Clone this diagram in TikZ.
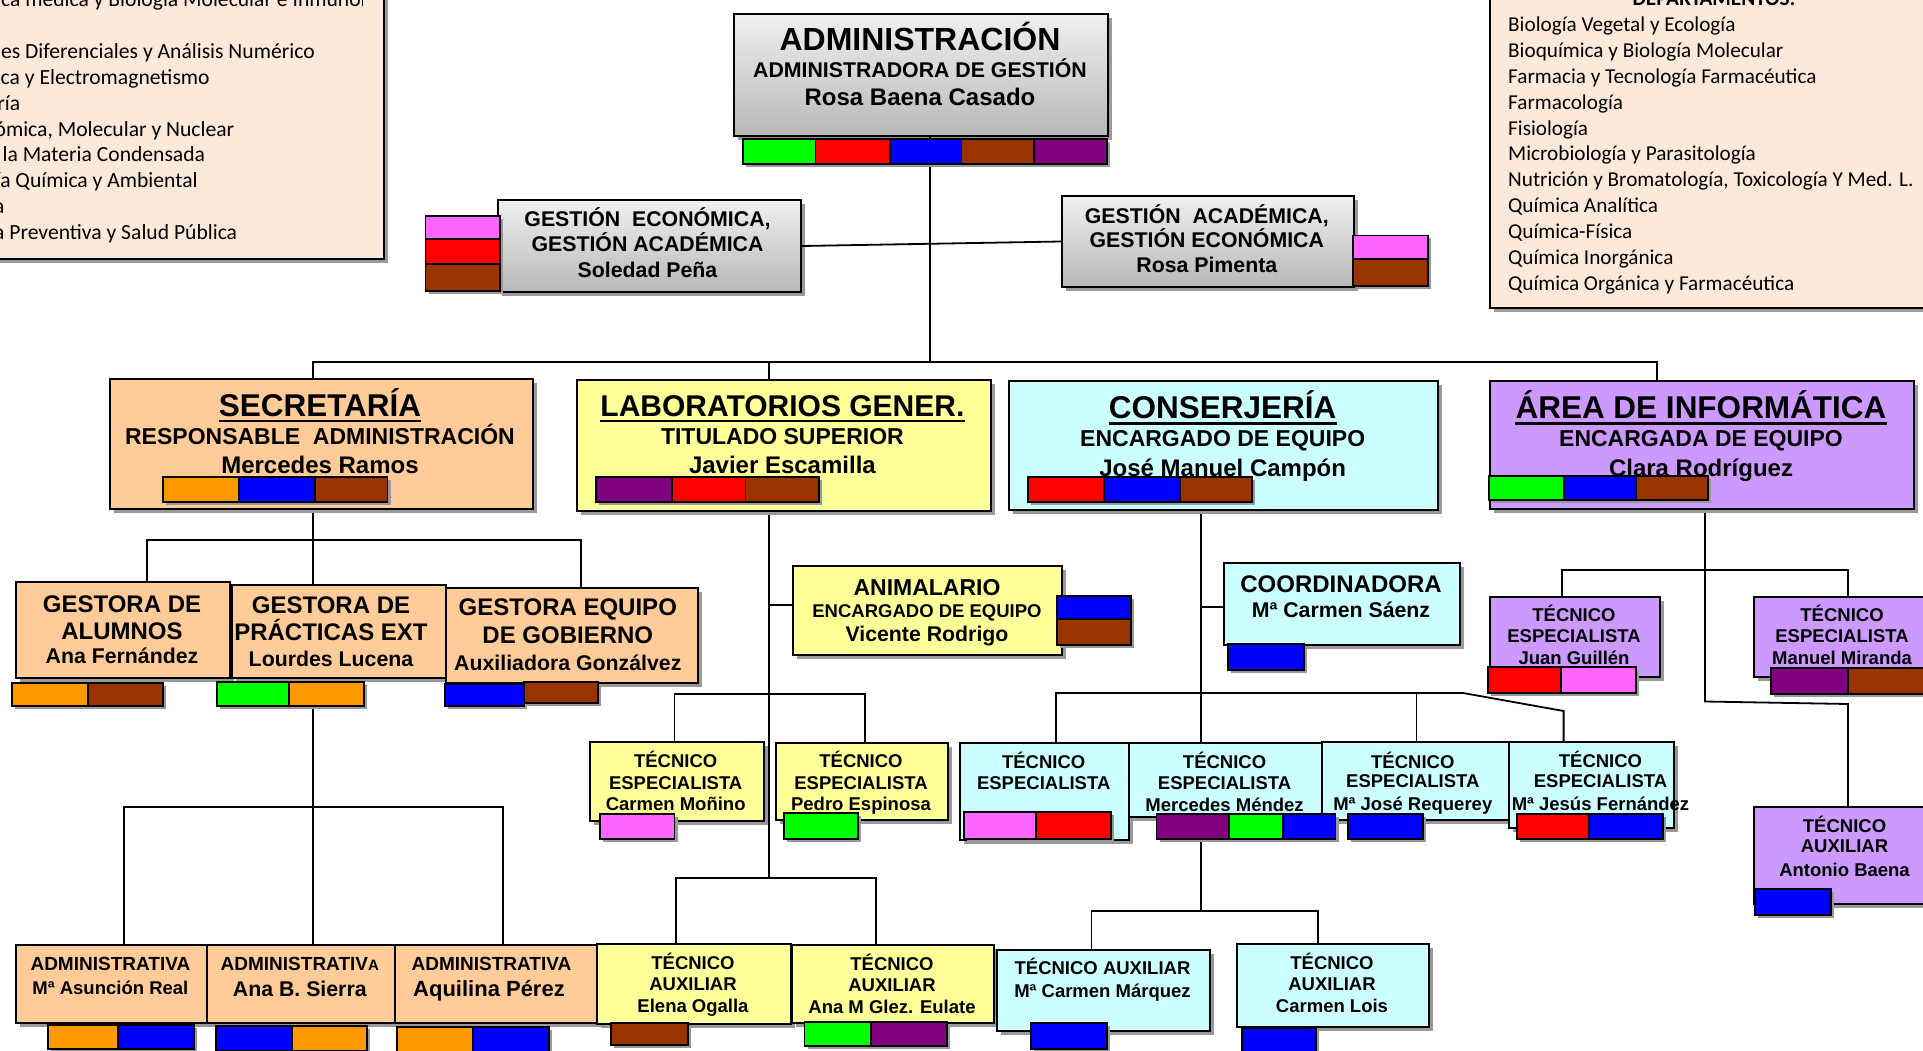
\documentclass[tikz,border=0pt]{standalone}
\usepackage{fontspec}
\setmainfont{Liberation Sans}
\newfontfamily\depfont{Carlito}
\usetikzlibrary{shadows}
\definecolor{cgreen}{RGB}{0,255,0}
\definecolor{cred}{RGB}{255,0,0}
\definecolor{cblue}{RGB}{0,0,255}
\definecolor{cbrown}{RGB}{153,51,0}
\definecolor{cpurple}{RGB}{128,0,128}
\definecolor{cpink}{RGB}{255,102,255}
\definecolor{corange}{RGB}{255,153,0}
\definecolor{peach}{RGB}{255,204,153}
\definecolor{lemon}{RGB}{255,255,153}
\definecolor{aqua}{RGB}{204,255,255}
\definecolor{lilac}{RGB}{204,153,255}
\definecolor{paper}{RGB}{253,233,217}

\begin{document}
\begin{tikzpicture}[x=1pt,y=-1pt,
  box/.style={draw=black,line width=2pt,anchor=north west,inner sep=0pt,
    drop shadow={shadow xshift=4pt,shadow yshift=-4pt,fill=black!40,opacity=1}},
  sq/.style={draw=black,line width=1.6pt,
    drop shadow={shadow xshift=3pt,shadow yshift=-3pt,fill=black!40,opacity=1}},
  ln/.style={draw=black,line width=1.8pt},
  tx/.style={inner sep=0pt,anchor=base},
  ttl/.style={tx,font=\bfseries\fontsize{31.5}{32}\selectfont},
  t24/.style={tx,font=\bfseries\fontsize{24}{24}\selectfont},
  t23/.style={tx,font=\bfseries\fontsize{23}{23}\selectfont},
  t21/.style={tx,font=\bfseries\fontsize{21.3}{22}\selectfont},
  t18/.style={tx,font=\bfseries\fontsize{18.5}{19}\selectfont},
  t17/.style={tx,font=\bfseries\fontsize{19}{19}\selectfont},
  dep/.style={inner sep=0pt,anchor=base west,font=\depfont\fontsize{21.6}{22}\selectfont},
  uln/.style={line width=2.6pt}]
\useasboundingbox (0,0) rectangle (1923,1051);

%Departments (cut by the page edge)
\node[box,fill=paper,minimum width=400pt,minimum height=270pt] (depL) at (-17,-12) {};
\node[box,fill=paper,minimum width=450pt,minimum height=320pt] (depR) at (1489,-13) {};
\begin{scope}
\clip (0,0) rectangle (362,258);
\foreach \d [count=\k from 0] in {Bioquímica médica y Biología Molecular e Inmunología,Botánica,
  Ecuaciones Diferenciales y Análisis Numérico,Electrónica y Electromagnetismo,Enfermería,
  {Física Atómica, Molecular y Nuclear},Física de la Materia Condensada,
  Ingeniería Química y Ambiental,Medicina,Medicina Preventiva y Salud Pública}
  \node[dep] (dl-\k) at (-77,6.7+25.88*\k) {\d};
\end{scope}
\node[tx,font=\depfont\bfseries\fontsize{21.2}{22}\selectfont] (dr-t) at (1714,6) {DEPARTAMENTOS:};
\foreach \d [count=\k from 0] in {Biología Vegetal y Ecología,Bioquímica y Biología Molecular,
  Farmacia y Tecnología Farmacéutica,Farmacología,Fisiología,Microbiología y Parasitología,
  {Nutrición y Bromatología, Toxicología Y Med. L.},Química Analítica,Química-Física,
  Química Inorgánica,Química Orgánica y Farmacéutica}
  \node[dep,font=\depfont\fontsize{21.2}{22}\selectfont] (dr-\k) at (1508,31.5+25.88*\k) {\d};

%Junctions
\coordinate (j0) at (929.6,362);
\coordinate (bL) at (313,362);
\coordinate (bM) at (769,362);
\coordinate (bR) at (1657,362);
\coordinate (sA) at (147,540);
\coordinate (sB) at (581,540);
\coordinate (a0) at (313,807);
\coordinate (aA) at (124,807);
\coordinate (aB) at (503,807);
\coordinate (l0) at (769,878);
\coordinate (lA) at (674.5,694);
\coordinate (lB) at (865,694);
\coordinate (lC) at (676,878);
\coordinate (lD) at (876,878);
\coordinate (c0) at (1200.6,911);
\coordinate (cA) at (1056,693);
\coordinate (cB) at (1416.5,693);
\coordinate (cC) at (1463,693);
\coordinate (cD) at (1563.6,711);
\coordinate (cE) at (1091.5,911);
\coordinate (cF) at (1318,911);
\coordinate (i0) at (1705,701.5);
\coordinate (i1) at (1848,704);
\coordinate (iA) at (1562,570);
\coordinate (iB) at (1848,570);

%Boxes (placed first so the connectors can use them)
\path (733,13.5) node[box,top color=black!6,bottom color=black!28,minimum width=374pt,minimum height=121.5pt] (adm) {};
\path (497,199) node[box,top color=black!6,bottom color=black!28,minimum width=303pt,minimum height=92pt] (ge) {};
\path (1061,195) node[box,top color=black!6,bottom color=black!28,minimum width=292pt,minimum height=91pt] (ga) {};

%Connectors
\draw[ln] (j0 |- adm.south) -- (j0);
\draw[ln] (ge.east) -- (ga.west);
\draw[ln] (bL |- 0,378) -- (bL) -- (bR) -- (bR |- 0,380);
\draw[ln] (bM) -- (bM |- 0,379);
\draw[ln] (bL |- 0,508) -- (a0) -- (a0 |- 0,944);
\draw[ln] (sA |- 0,581) -- (sA) -- (sB) -- (sB |- 0,587);
\draw[ln] (aA |- 0,944) -- (aA) -- (aB) -- (aB |- 0,944);
\draw[ln] (bM |- 0,510) -- (l0);
\draw[ln] (bM |- 0,605) -- (792,605);
\draw[ln] (lA |- 0,741) -- (lA) -- (lB) -- (lB |- 0,742);
\draw[ln] (lC |- 0,943) -- (lC) -- (lD) -- (lD |- 0,944);
\draw[ln] (c0 |- 0,509) -- (c0);
\draw[ln] (c0 |- 0,607) -- (1223,607);
\draw[ln] (cA |- 0,742) -- (cA) -- (cC) -- (cD) -- (cD |- 0,741);
\draw[ln] (cB) -- (cB |- 0,741);
\draw[ln] (cE |- 0,949) -- (cE) -- (cF) -- (cF |- 0,943);
\draw[ln] (i0 |- 0,508) -- (i0) -- (i1) -- (i1 |- 0,806);
\draw[ln] (iA |- 0,596) -- (iA) -- (iB) -- (iB |- 0,596);

%Second row
\node[box,fill=peach,minimum width=423pt,minimum height=130pt] (sec) at (109,378) {};
\node[box,fill=lemon,minimum width=414pt,minimum height=131pt] (lab) at (576,379) {};
\node[box,fill=aqua,minimum width=429pt,minimum height=129pt] (con) at (1008,380) {};
\node[box,fill=lilac,minimum width=424pt,minimum height=128pt] (inf) at (1489,380) {};
%Secretaria staff
\node[box,fill=peach,minimum width=214pt,minimum height=96pt] (alu) at (15,581) {};
\node[box,fill=peach,minimum width=214.5pt,minimum height=93pt] (pra) at (230.5,584) {};
\node[box,fill=peach,minimum width=252pt,minimum height=95pt] (gob) at (445,587) {};
\node[box,fill=peach,minimum width=191pt,minimum height=78pt] (ad1) at (15,944) {};
\node[box,fill=peach,minimum width=188pt,minimum height=78pt] (ad2) at (206,944) {};
\node[box,fill=peach,minimum width=228pt,minimum height=78pt] (ad3) at (394,944) {};
%Laboratorios staff
\node[box,fill=lemon,minimum width=269pt,minimum height=89pt] (ani) at (792,565) {};
\node[box,fill=lemon,minimum width=174pt,minimum height=79pt] (mon) at (589,741) {};
\node[box,fill=lemon,minimum width=172pt,minimum height=77pt] (esp) at (775,742) {};
\node[box,fill=lemon,minimum width=194pt,minimum height=80pt] (oga) at (596,943) {};
\node[box,fill=lemon,minimum width=202pt,minimum height=78pt] (eul) at (791,944) {};
%Conserjeria staff
\node[box,fill=aqua,minimum width=236pt,minimum height=82pt] (coo) at (1223,562) {};
\node[box,fill=aqua,minimum width=169pt,minimum height=97pt] (te1) at (959,742) {};
\node[box,fill=aqua,minimum width=193pt,minimum height=74pt] (men) at (1128,742) {};
\node[box,fill=aqua,minimum width=187pt,minimum height=78pt] (req) at (1321,741) {};
\node[box,fill=aqua,minimum width=165pt,minimum height=86pt] (jes) at (1508,741) {};
\node[box,fill=aqua,minimum width=213pt,minimum height=81pt] (mar) at (996,949) {};
\node[box,fill=aqua,minimum width=191.5pt,minimum height=83pt] (loi) at (1236,943) {};
%Informatica staff
\node[box,fill=lilac,minimum width=170pt,minimum height=80pt] (gui) at (1489,596) {};
\node[box,fill=lilac,minimum width=182.5pt,minimum height=80pt] (mir) at (1752.5,596) {};
\node[box,fill=lilac,minimum width=182.5pt,minimum height=97pt] (bae) at (1752.5,806) {};

%Colour tags
\draw[sq,fill=cgreen] (743,139) rectangle (815.6,164);
\draw[sq,fill=cred] (815.6,139) rectangle (890,164);
\draw[sq,fill=cblue] (890,139) rectangle (961.5,164);
\draw[sq,fill=cbrown] (961.5,139) rectangle (1034,164);
\draw[sq,fill=cpurple] (1034,139) rectangle (1107,164);
\draw[sq,fill=cpink] (425.6,216) rectangle (500,239);
\draw[sq,fill=cred] (425.6,239) rectangle (500,264);
\draw[sq,fill=cbrown] (425.6,264) rectangle (500,291);
\draw[sq,fill=cpink] (1353,235.5) rectangle (1428,259);
\draw[sq,fill=cbrown] (1353,259) rectangle (1428,286);
\draw[sq,fill=corange] (163,477) rectangle (239,502);
\draw[sq,fill=cblue] (239,477) rectangle (315,502);
\draw[sq,fill=cbrown] (315,477) rectangle (387.5,502);
\draw[sq,fill=cpurple] (596,477) rectangle (672,502);
\draw[sq,fill=cred] (672,477) rectangle (745.6,502);
\draw[sq,fill=cbrown] (745.6,477) rectangle (819,502);
\draw[sq,fill=cred] (1028,477) rectangle (1104,502);
\draw[sq,fill=cblue] (1104,477) rectangle (1180,502);
\draw[sq,fill=cbrown] (1180,477) rectangle (1252,502);
\draw[sq,fill=cgreen] (1489,476) rectangle (1564,500);
\draw[sq,fill=cblue] (1564,476) rectangle (1636,500);
\draw[sq,fill=cbrown] (1636,476) rectangle (1708,500);
\draw[sq,fill=corange] (12,683) rectangle (88,706);
\draw[sq,fill=cbrown] (88,683) rectangle (163,706);
\draw[sq,fill=cgreen] (217,682) rectangle (289,706);
\draw[sq,fill=corange] (289,682) rectangle (364,706);
\draw[sq,fill=cblue] (445,684) rectangle (524,706);
\draw[sq,fill=cbrown] (524,682) rectangle (598,703);
\draw[sq,fill=corange] (48,1025) rectangle (118,1049);
\draw[sq,fill=cblue] (118,1025) rectangle (194,1049);
\draw[sq,fill=cblue] (216,1026) rectangle (292,1051);
\draw[sq,fill=corange] (292,1026) rectangle (367,1051);
\draw[sq,fill=corange] (397,1027) rectangle (473,1052);
\draw[sq,fill=cblue] (473,1027) rectangle (549,1052);
\draw[sq,fill=cblue] (1057,596) rectangle (1131,619);
\draw[sq,fill=cbrown] (1057,619) rectangle (1131,645);
\draw[sq,fill=cpink] (600,814) rectangle (674.5,839);
\draw[sq,fill=cgreen] (784,813) rectangle (858,839);
\draw[sq,fill=cbrown] (611,1023) rectangle (688,1045);
\draw[sq,fill=cgreen] (804.5,1022) rectangle (871,1046);
\draw[sq,fill=cpurple] (871,1022) rectangle (947,1046);
\draw[sq,fill=cblue] (1228,644) rectangle (1304,670);
\draw[sq,fill=cpink] (964,812) rectangle (1036,839);
\draw[sq,fill=cred] (1036,812) rectangle (1111,839);
\draw[sq,fill=cpurple] (1156.5,814) rectangle (1229,839);
\draw[sq,fill=cgreen] (1229,814) rectangle (1283,839);
\draw[sq,fill=cblue] (1283,814) rectangle (1335.5,839);
\draw[sq,fill=cblue] (1348,814) rectangle (1423,839);
\draw[sq,fill=cred] (1517,814) rectangle (1589,839);
\draw[sq,fill=cblue] (1589,814) rectangle (1663,839);
\draw[sq,fill=cblue] (1031,1023) rectangle (1107,1049);
\draw[sq,fill=cblue] (1242,1028) rectangle (1316,1053);
\draw[sq,fill=cred] (1488,667) rectangle (1561,693);
\draw[sq,fill=cpink] (1561,667) rectangle (1636,693);
\draw[sq,fill=cpurple] (1771,668) rectangle (1848,694);
\draw[sq,fill=cbrown] (1848,668) rectangle (1928,694);
\draw[sq,fill=cblue] (1755,889) rectangle (1831,915);

% Text Node
\node[tx,font=\bfseries\fontsize{32}{32}\selectfont] (adm-1) at (920,50.7) {ADMINISTRACIÓN};
\node[t21] (adm-2) at (920,77.4) {ADMINISTRADORA DE GESTIÓN};
\node[t24] (adm-3) at (920,105.5) {Rosa Baena Casado};
\node[t21] (ge-1) at (647.5,227) {GESTIÓN\ \ ECONÓMICA,};
\node[t21] (ge-2) at (647.5,251.5) {GESTIÓN ACADÉMICA};
\node[t21] (ge-3) at (647.5,277) {Soledad Peña};
\node[t21] (ga-1) at (1206.8,223.3) {GESTIÓN\ \ ACADÉMICA,};
\node[t21] (ga-2) at (1206.8,247.9) {GESTIÓN ECONÓMICA};
\node[t21] (ga-3) at (1206.8,272.4) {Rosa Pimenta};
% Text Node
\node[ttl] (sec-1) at (320,416) {SECRETARÍA};
\node[t23] (sec-2) at (320,444.5) {RESPONSABLE\ \ ADMINISTRACIÓN};
\node[t24] (sec-3) at (320,473.4) {Mercedes Ramos};
\node[ttl,font=\bfseries\fontsize{30}{30}\selectfont] (lab-1) at (782.4,416) {LABORATORIOS GENER.};
\node[t23] (lab-2) at (782.4,444.5) {TITULADO SUPERIOR};
\node[t24] (lab-3) at (782.4,473.4) {Javier Escamilla};
\node[ttl] (con-1) at (1222.7,418.7) {CONSERJERÍA};
\node[t23] (con-2) at (1222.7,446) {ENCARGADO DE EQUIPO};
\node[t24] (con-3) at (1222.7,476) {José Manuel Campón};
\node[ttl] (inf-1) at (1701,418.7) {ÁREA DE INFORMÁTICA};
\node[t23] (inf-2) at (1701,446) {ENCARGADA DE EQUIPO};
\node[t24] (inf-3) at (1701,476) {Clara Rodríguez};
\foreach \n in {sec,lab,con,inf}
  \draw[uln] ([yshift=-5pt]\n-1.base west) -- ([yshift=-5pt]\n-1.base east);
% Text Node
\node[t24] (alu-1) at (122,612) {GESTORA DE};
\node[t24] (alu-2) at (122,639) {ALUMNOS};
\node[t21] (alu-3) at (122,663.8) {Ana Fernández};
\node[t24] (pra-1) at (331,613.2) {GESTORA DE};
\node[t24] (pra-2) at (331,640.2) {PRÁCTICAS EXT};
\node[t21] (pra-3) at (331,666.3) {Lourdes Lucena};
\node[t24] (gob-1) at (567.8,615.6) {GESTORA EQUIPO};
\node[t24] (gob-2) at (567.8,643.9) {DE GOBIERNO};
\node[t21] (gob-3) at (567.8,670) {Auxiliadora Gonzálvez};
\node[t17] (ad1-1) at (110.4,970.3) {ADMINISTRATIVA};
\node[t18] (ad1-2) at (110.4,994) {Mª Asunción Real};
\node[t17] (ad2-1) at (299.8,970.3) {ADMINISTRATIV{\fontsize{15}{15}\selectfont A}};
\node[t21] (ad2-2) at (299.8,996) {Ana B. Sierra};
\node[t17] (ad3-1) at (491.5,970.3) {ADMINISTRATIVA};
\node[t21,font=\bfseries\fontsize{22}{22}\selectfont] (ad3-2) at (489,996) {Aquilina Pérez};
% Text Node
\node[t23] (ani-1) at (927,595.9) {ANIMALARIO};
\node[t18] (ani-2) at (927,617.3) {ENCARGADO DE EQUIPO};
\node[t21] (ani-3) at (927,641.7) {Vicente Rodrigo};
\node[t18] (mon-1) at (675.7,767) {TÉCNICO};
\node[t18] (mon-2) at (675.7,789) {ESPECIALISTA};
\node[t18] (mon-3) at (675.7,810) {Carmen Moñino};
\node[t18] (esp-1) at (861,767) {TÉCNICO};
\node[t18] (esp-2) at (861,789) {ESPECIALISTA};
\node[t18] (esp-3) at (861,810) {Pedro Espinosa};
\node[t18] (oga-1) at (693,969.3) {TÉCNICO};
\node[t18] (oga-2) at (693,990.2) {AUXILIAR};
\node[t18] (oga-3) at (693,1012.2) {Elena Ogalla};
\node[t18] (eul-1) at (892,970.5) {TÉCNICO};
\node[t18] (eul-2) at (892,991.4) {AUXILIAR};
\node[t18] (eul-3) at (892,1013.5) {Ana M Glez. Eulate};
% Text Node
\node[t24] (coo-1) at (1341,592.4) {COORDINADORA};
\node[t21] (coo-2) at (1341,617.2) {Mª Carmen Sáenz};
\node[t18] (te1-1) at (1043.7,768.2) {TÉCNICO};
\node[t18] (te1-2) at (1043.7,789) {ESPECIALISTA};
\node[t18] (men-1) at (1224.6,768.2) {TÉCNICO};
\node[t18] (men-2) at (1224.6,789) {ESPECIALISTA};
\node[t18] (men-3) at (1224.6,811) {Mercedes Méndez};
\node[t18] (req-1) at (1412.8,768.2) {TÉCNICO};
\node[t18] (req-2) at (1412.8,787.8) {ESPECIALISTA};
\node[t18] (req-3) at (1412.8,810) {Mª José Requerey};
\node[t18] (jes-1) at (1600.5,767) {TÉCNICO};
\node[t18] (jes-2) at (1600.5,787.8) {ESPECIALISTA};
\node[t18] (jes-3) at (1600.5,810) {Mª Jesús Fernández};
\node[t18] (mar-1) at (1102.5,974.2) {TÉCNICO AUXILIAR};
\node[t18] (mar-2) at (1102.5,997.6) {Mª Carmen Márquez};
\node[t18] (loi-1) at (1332,969.3) {TÉCNICO};
\node[t18] (loi-2) at (1332,990.2) {AUXILIAR};
\node[t18] (loi-3) at (1332,1012.2) {Carmen Lois};
% Text Node
\node[t18] (gui-1) at (1574,621) {TÉCNICO};
\node[t18] (gui-2) at (1574,642) {ESPECIALISTA};
\node[t18] (gui-3) at (1574,664) {Juan Guillén};
\node[t18] (mir-1) at (1842,621) {TÉCNICO};
\node[t18] (mir-2) at (1842,642) {ESPECIALISTA};
\node[t18] (mir-3) at (1842,664) {Manuel Miranda};
\node[t18] (bae-1) at (1844.5,832) {TÉCNICO};
\node[t18] (bae-2) at (1844.5,852.8) {AUXILIAR};
\node[t18] (bae-3) at (1844.5,876) {Antonio Baena};

\end{tikzpicture}
\end{document}
